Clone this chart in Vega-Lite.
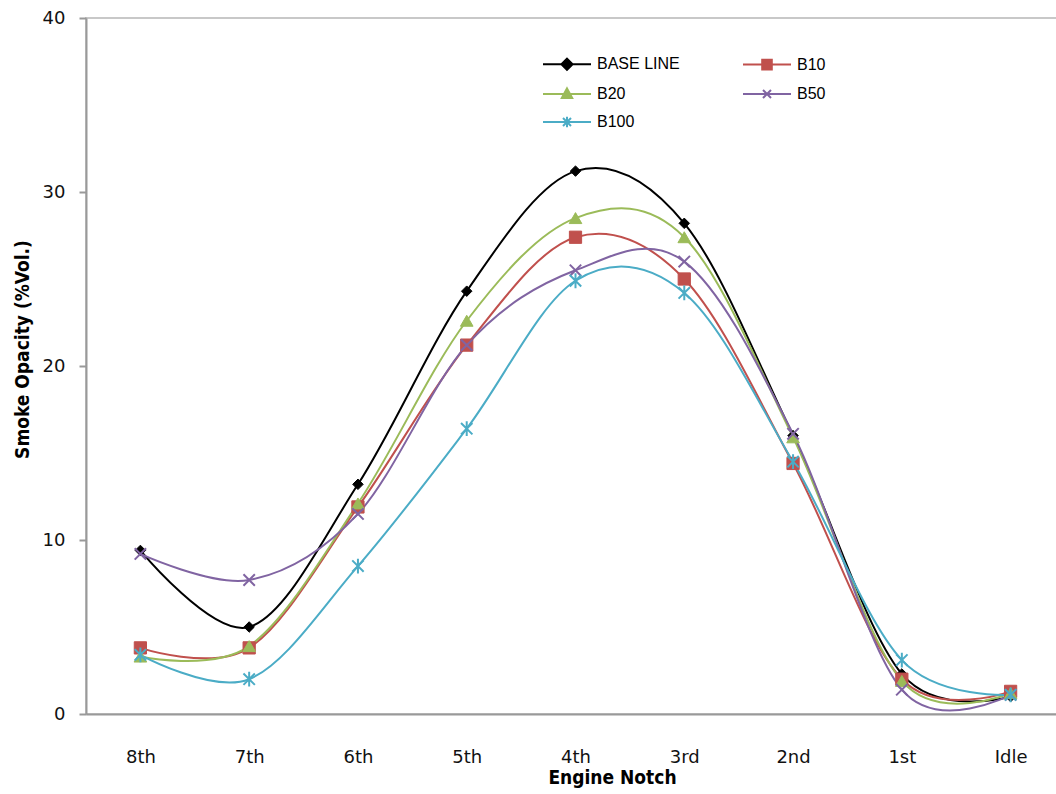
{
  "$schema": "https://vega.github.io/schema/vega-lite/v6.json",
  "width": 979,
  "height": 696,
  "autosize": "none",
  "padding": {"left": 86, "top": 18, "right": 0, "bottom": 80},
  "background": "white",
  "config": {
    "view": {"stroke": "#c8c8c8", "strokeWidth": 2},
    "font": "Liberation Sans"
  },
  "data": {
    "values": [
      {"notch": "8th", "series": "BASE LINE", "value": 9.4},
      {"notch": "7th", "series": "BASE LINE", "value": 5.0},
      {"notch": "6th", "series": "BASE LINE", "value": 13.2},
      {"notch": "5th", "series": "BASE LINE", "value": 24.3},
      {"notch": "4th", "series": "BASE LINE", "value": 31.2},
      {"notch": "3rd", "series": "BASE LINE", "value": 28.2},
      {"notch": "2nd", "series": "BASE LINE", "value": 16.0},
      {"notch": "1st", "series": "BASE LINE", "value": 2.3},
      {"notch": "Idle", "series": "BASE LINE", "value": 1.0},
      {"notch": "8th", "series": "B10", "value": 3.8},
      {"notch": "7th", "series": "B10", "value": 3.8},
      {"notch": "6th", "series": "B10", "value": 11.9},
      {"notch": "5th", "series": "B10", "value": 21.2},
      {"notch": "4th", "series": "B10", "value": 27.4},
      {"notch": "3rd", "series": "B10", "value": 25.0},
      {"notch": "2nd", "series": "B10", "value": 14.4},
      {"notch": "1st", "series": "B10", "value": 2.0},
      {"notch": "Idle", "series": "B10", "value": 1.3},
      {"notch": "8th", "series": "B20", "value": 3.3},
      {"notch": "7th", "series": "B20", "value": 3.9},
      {"notch": "6th", "series": "B20", "value": 12.1},
      {"notch": "5th", "series": "B20", "value": 22.6},
      {"notch": "4th", "series": "B20", "value": 28.5},
      {"notch": "3rd", "series": "B20", "value": 27.4},
      {"notch": "2nd", "series": "B20", "value": 15.9},
      {"notch": "1st", "series": "B20", "value": 1.9},
      {"notch": "Idle", "series": "B20", "value": 1.2},
      {"notch": "8th", "series": "B50", "value": 9.2},
      {"notch": "7th", "series": "B50", "value": 7.7},
      {"notch": "6th", "series": "B50", "value": 11.5},
      {"notch": "5th", "series": "B50", "value": 21.2},
      {"notch": "4th", "series": "B50", "value": 25.5},
      {"notch": "3rd", "series": "B50", "value": 26.0},
      {"notch": "2nd", "series": "B50", "value": 16.1},
      {"notch": "1st", "series": "B50", "value": 1.4},
      {"notch": "Idle", "series": "B50", "value": 1.1},
      {"notch": "8th", "series": "B100", "value": 3.4},
      {"notch": "7th", "series": "B100", "value": 2.0},
      {"notch": "6th", "series": "B100", "value": 8.5},
      {"notch": "5th", "series": "B100", "value": 16.4},
      {"notch": "4th", "series": "B100", "value": 24.9},
      {"notch": "3rd", "series": "B100", "value": 24.2},
      {"notch": "2nd", "series": "B100", "value": 14.5},
      {"notch": "1st", "series": "B100", "value": 3.1},
      {"notch": "Idle", "series": "B100", "value": 1.1}
    ]
  },
  "encoding": {
    "x": {
      "field": "notch",
      "type": "ordinal",
      "sort": ["8th", "7th", "6th", "5th", "4th", "3rd", "2nd", "1st", "Idle"],
      "title": "Engine Notch",
      "axis": {
        "labelAngle": 0,
        "labelFont": "DejaVu Sans",
        "labelFontSize": 18,
        "labelColor": "#111111",
        "labelBaseline": "middle",
        "labelPadding": 43,
        "ticks": false,
        "tickSize": 0,
        "domainColor": "#999999",
        "domainWidth": 2,
        "titleFont": "DejaVu Sans Condensed",
        "titleFontWeight": "bold",
        "titleFontSize": 19,
        "titleColor": "#000000",
        "titleX": 526,
        "titleY": 63,
        "titleBaseline": "middle",
        "titleAlign": "center"
      }
    },
    "y": {
      "field": "value",
      "type": "quantitative",
      "scale": {"domain": [0, 40], "nice": false},
      "title": "Smoke Opacity (%Vol.)",
      "axis": {
        "values": [0, 10, 20, 30, 40],
        "grid": false,
        "labelFont": "DejaVu Sans",
        "labelFontSize": 18,
        "labelColor": "#111111",
        "labelPadding": 14,
        "tickSize": 7,
        "tickColor": "#999999",
        "tickWidth": 2,
        "domainColor": "#999999",
        "domainWidth": 2,
        "titleFont": "DejaVu Sans Condensed",
        "titleFontWeight": "bold",
        "titleFontSize": 19,
        "titleColor": "#000000",
        "titleX": -64,
        "titleY": 331,
        "titleAngle": -90,
        "titleBaseline": "middle",
        "titleAlign": "center"
      }
    }
  },
  "layer": [
    {
      "mark": {"type": "line", "interpolate": "cardinal", "strokeWidth": 2},
      "encoding": {
        "color": {
          "field": "series",
          "type": "nominal",
          "scale": {
            "domain": ["BASE LINE", "B10", "B20", "B50", "B100"],
            "range": ["#000000", "#C0504D", "#9BBB59", "#8064A2", "#4BACC6"]
          },
          "legend": {
            "title": null,
            "orient": "none",
            "direction": "horizontal",
            "legendX": 473,
            "legendY": 38,
            "columns": 2,
            "columnPadding": 59,
            "rowPadding": 10,
            "labelFont": "Liberation Sans",
            "labelFontSize": 16,
            "labelColor": "#000000",
            "symbolSize": 64,
            "symbolStrokeWidth": 2,
            "labelOffset": 22,
            "encode": {
              "symbols": {
                "update": {
                  "shape": {"signal": "datum.value === 'BASE LINE' ? 'M-6,0L6,0M0,-1.4L1.4,0L0,1.4L-1.4,0Z' : datum.value === 'B10' ? 'M-6,0L6,0M-1.2,-1.2L1.2,-1.2L1.2,1.2L-1.2,1.2Z' : datum.value === 'B20' ? 'M-6,0L6,0M0,-1.4L1.3,1L-1.3,1Z' : datum.value === 'B50' ? 'M-6,0L6,0M-1,-1L1,1M-1,1L1,-1' : 'M-6,0L6,0M-1,-1L1,1M-1,1L1,-1M0,-1.3L0,1.3'"},
                  "fill": {"scale": "color", "field": "value"},
                  "stroke": {"scale": "color", "field": "value"},
                  "strokeWidth": {"value": 2},
                  "opacity": {"value": 1}
                }
              }
            }
          }
        }
      }
    },
    {
      "transform": [{"filter": "datum.series === 'BASE LINE'"}],
      "mark": {"type": "point", "shape": "diamond", "filled": true, "fill": "#000000", "stroke": "#000000", "strokeWidth": 1, "size": 110, "opacity": 1}
    },
    {
      "transform": [{"filter": "datum.series === 'B10'"}],
      "mark": {"type": "point", "shape": "square", "filled": true, "fill": "#C0504D", "stroke": "#C0504D", "strokeWidth": 1, "size": 150, "opacity": 1}
    },
    {
      "transform": [{"filter": "datum.series === 'B20'"}],
      "mark": {"type": "point", "shape": "triangle-up", "filled": true, "fill": "#9BBB59", "stroke": "#9BBB59", "strokeWidth": 1, "size": 160, "opacity": 1}
    },
    {
      "transform": [{"filter": "datum.series === 'B50'"}],
      "mark": {"type": "point", "shape": "M-1,-1L1,1M-1,1L1,-1", "filled": false, "stroke": "#8064A2", "strokeWidth": 2, "size": 130, "opacity": 1}
    },
    {
      "transform": [{"filter": "datum.series === 'B100'"}],
      "mark": {"type": "point", "shape": "M-1,-1L1,1M-1,1L1,-1M0,-1.3L0,1.3", "filled": false, "stroke": "#4BACC6", "strokeWidth": 2, "size": 130, "opacity": 1}
    }
  ]
}
